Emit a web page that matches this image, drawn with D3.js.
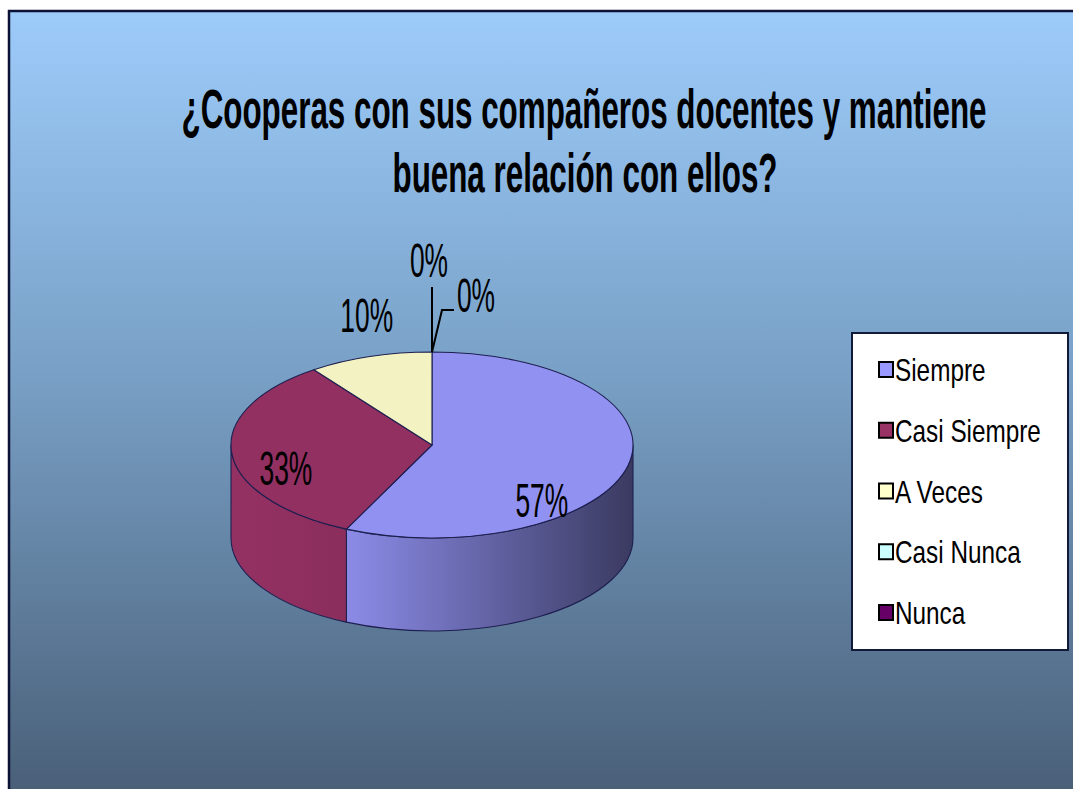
<!DOCTYPE html>
<html>
<head>
<meta charset="utf-8">
<script src="https://cdn.jsdelivr.net/npm/d3@7"></script>
<style>
  html, body { margin: 0; padding: 0; background: #fff; overflow: hidden; }
  text { font-family: "Liberation Sans", Arial, sans-serif; fill: #000; }
</style>
</head>
<body>
<div id="chart"></div>
<script>
// Datos
const categories = ["Siempre", "Casi Siempre", "A Veces", "Casi Nunca", "Nunca"];
const values = [57, 33, 10, 0, 0];
const colors = ["#9999FF", "#993366", "#FFFFCC", "#CCFFFF", "#660066"];
const titleLines = ["¿Cooperas con sus compañeros docentes y mantiene", "buena relación con ellos?"];

const W = 1073, H = 789;
const svg = d3.select("#chart").append("svg")
  .attr("width", W).attr("height", H);
const defs = svg.append("defs");

// ---------- fondo ----------
const bg = defs.append("linearGradient").attr("id", "bg")
  .attr("x1", 0).attr("y1", 0).attr("x2", 0).attr("y2", 1);
bg.append("stop").attr("offset", 0).attr("stop-color", "#9dcbfa");
bg.append("stop").attr("offset", 0.45).attr("stop-color", "#7aa2c8");
bg.append("stop").attr("offset", 1).attr("stop-color", "#4a6079");

svg.append("rect").attr("x", 9).attr("y", 11)
  .attr("width", W - 9).attr("height", H - 11)
  .attr("fill", "url(#bg)");
svg.append("line").attr("x1", 8).attr("x2", W).attr("y1", 11).attr("y2", 11)
  .attr("stroke", "#0b1236").attr("stroke-width", 2.5);
svg.append("line").attr("x1", 9).attr("x2", 9).attr("y1", 10).attr("y2", H)
  .attr("stroke", "#0b1236").attr("stroke-width", 2.5);

// texto comprimido horizontalmente
function label(g, str, x, y, size, k, anchor, weight) {
  return g.append("text")
    .attr("transform", `translate(${x},${y}) scale(${k},1)`)
    .attr("text-anchor", anchor || "middle")
    .style("font-size", size + "px")
    .style("font-weight", weight || "normal")
    .text(str);
}

// ---------- título ----------
const titleG = svg.append("g");
label(titleG, titleLines[0], 584, 128, 56, 0.56, "middle", "bold");
label(titleG, titleLines[1], 585, 192, 56, 0.56, "middle", "bold");

// ---------- pastel 3D ----------
const cx = 432, cy = 445, rx = 201, ry = 93, depth = 93;
const pie = d3.pie().sort(null).value(d => d).startAngle(0).endAngle(2 * Math.PI);
const arcs = pie(values);

function pt(a, dy) {
  return [cx + rx * Math.sin(a), cy - ry * Math.cos(a) + (dy || 0)];
}
function shade(c, f) {
  const r = d3.rgb(c);
  return d3.rgb(r.r * f, r.g * f, r.b * f).formatHex();
}

colors.forEach((c, i) => {
  const gr = defs.append("linearGradient").attr("id", "side" + i)
    .attr("gradientUnits", "userSpaceOnUse")
    .attr("x1", cx - rx).attr("x2", cx + rx).attr("y1", 0).attr("y2", 0);
  gr.append("stop").attr("offset", 0).attr("stop-color", shade(c, 0.97));
  gr.append("stop").attr("offset", 0.3).attr("stop-color", shade(c, 0.9));
  gr.append("stop").attr("offset", 1).attr("stop-color", shade(c, 0.38));
});

const pieG = svg.append("g");
const edge = "#1d1f4f";

// paredes frontales
arcs.forEach((d, i) => {
  const s = Math.max(d.startAngle, Math.PI / 2);
  const e = Math.min(d.endAngle, 3 * Math.PI / 2);
  if (e - s < 1e-6) return;
  const p0 = pt(s), p1 = pt(e), q1 = pt(e, depth), q0 = pt(s, depth);
  const large = e - s > Math.PI ? 1 : 0;
  pieG.append("path")
    .attr("d", `M${p0}A${rx},${ry} 0 ${large} 1 ${p1}L${q1}A${rx},${ry} 0 ${large} 0 ${q0}Z`)
    .attr("fill", `url(#side${i})`)
    .attr("stroke", edge).attr("stroke-width", 1.1).attr("stroke-linejoin", "round");
});

// caras superiores
arcs.forEach((d, i) => {
  if (d.endAngle - d.startAngle < 1e-6) return;
  const p0 = pt(d.startAngle), p1 = pt(d.endAngle);
  const large = d.endAngle - d.startAngle > Math.PI ? 1 : 0;
  pieG.append("path")
    .attr("d", `M${cx},${cy}L${p0}A${rx},${ry} 0 ${large} 1 ${p1}Z`)
    .attr("fill", shade(colors[i], 0.95))
    .attr("stroke", edge).attr("stroke-width", 1.1).attr("stroke-linejoin", "round");
});

// etiquetas de porcentaje
const pctG = svg.append("g");
const fmt = v => Math.round(v) + "%";
const total = d3.sum(values);
let smallCount = 0;
arcs.forEach((d, i) => {
  const mid = (d.startAngle + d.endAngle) / 2;
  const share = d.value / total;
  if (share >= 0.2) {
    // dentro del sector
    const f = share > 0.5 ? 0.56 : 0.73;
    const [x, y] = pt(mid);
    const lx = cx + (x - cx) * f;
    const ly = cy + (y - cy) * f + (share > 0.5 ? 61 : 34);
    label(pctG, fmt(share * 100), lx, ly, 48, 0.55);
  } else if (share > 0) {
    // fuera, sin línea guía
    const [x, y] = pt(mid);
    label(pctG, fmt(share * 100), cx + (x - cx) * 1.05, cy + (y - cy) * 1.47 + 17, 48, 0.55);
  } else {
    // sectores vacíos: línea guía desde el borde
    const [x, y] = pt(d.startAngle);
    if (smallCount === 0) {
      pctG.append("path").attr("d", `M${x},${y}V${y - 65}`)
        .attr("fill", "none").attr("stroke", "#000").attr("stroke-width", 2);
      label(pctG, fmt(0), x - 3, y - 75, 48, 0.55);
    } else {
      pctG.append("path").attr("d", `M${x},${y}L${x + 10},${y - 42}H${x + 22}`)
        .attr("fill", "none").attr("stroke", "#000").attr("stroke-width", 2);
      label(pctG, fmt(0), x + 44, y - 40, 48, 0.55);
    }
    smallCount++;
  }
});

// ---------- leyenda ----------
const legG = svg.append("g");
legG.append("rect").attr("x", 852).attr("y", 333).attr("width", 216).attr("height", 317)
  .attr("fill", "#fff").attr("stroke", "#111a3a").attr("stroke-width", 2);
const rowY = d3.scalePoint().domain(categories).range([370, 613]);
categories.forEach((c, i) => {
  const y = rowY(c);
  legG.append("rect").attr("x", 879).attr("y", y - 8).attr("width", 14).attr("height", 15)
    .attr("fill", colors[i]).attr("stroke", "#000").attr("stroke-width", 2);
  label(legG, c, 895, y + 11, 32, 0.76, "start");
});
</script>
</body>
</html>
